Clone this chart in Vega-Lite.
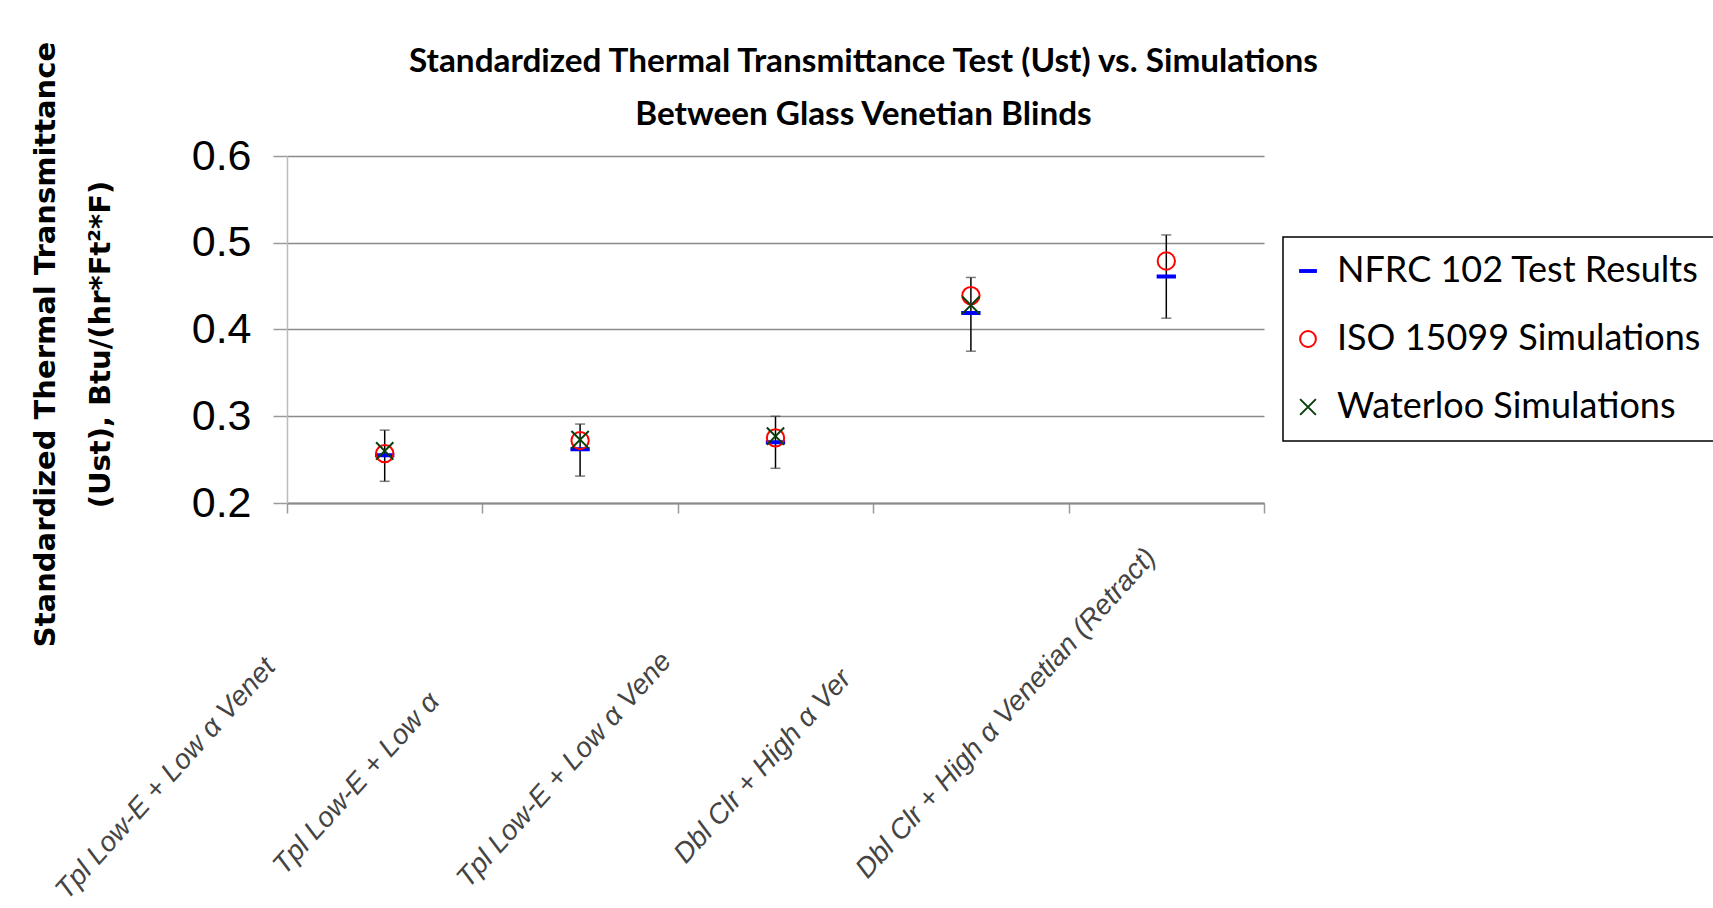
{
  "$schema": "https://vega.github.io/schema/vega-lite/v6.json",
  "autosize": "none",
  "width": 977,
  "height": 347,
  "padding": {"left": 287, "top": 156, "right": 449, "bottom": 405},
  "background": "#ffffff",
  "title": {
    "text": ["Standardized Thermal Transmittance Test (Ust) vs. Simulations", "Between Glass Venetian Blinds"],
    "frame": "group",
    "anchor": "middle",
    "dx": 88,
    "offset": -91,
    "font": "Lato",
    "fontSize": 33.3,
    "fontWeight": "bold",
    "lineHeight": 53,
    "color": "#000000"
  },
  "datasets": {
    "pts": [
      {"category": "Tpl Low-E + Low α Venet", "series": "NFRC 102 Test Results", "value": 0.255},
      {"category": "Tpl Low-E + Low α", "series": "NFRC 102 Test Results", "value": 0.262},
      {"category": "Tpl Low-E + Low α Vene", "series": "NFRC 102 Test Results", "value": 0.270},
      {"category": "Dbl Clr + High α Ver", "series": "NFRC 102 Test Results", "value": 0.419},
      {"category": "Dbl Clr + High α Venetian (Retract)", "series": "NFRC 102 Test Results", "value": 0.461},
      {"category": "Tpl Low-E + Low α Venet", "series": "ISO 15099 Simulations", "value": 0.257},
      {"category": "Tpl Low-E + Low α", "series": "ISO 15099 Simulations", "value": 0.272},
      {"category": "Tpl Low-E + Low α Vene", "series": "ISO 15099 Simulations", "value": 0.275},
      {"category": "Dbl Clr + High α Ver", "series": "ISO 15099 Simulations", "value": 0.439},
      {"category": "Dbl Clr + High α Venetian (Retract)", "series": "ISO 15099 Simulations", "value": 0.479},
      {"category": "Tpl Low-E + Low α Venet", "series": "Waterloo Simulations", "value": 0.260},
      {"category": "Tpl Low-E + Low α", "series": "Waterloo Simulations", "value": 0.273},
      {"category": "Tpl Low-E + Low α Vene", "series": "Waterloo Simulations", "value": 0.277},
      {"category": "Dbl Clr + High α Ver", "series": "Waterloo Simulations", "value": 0.428}
    ],
    "err": [
      {"category": "Tpl Low-E + Low α Venet", "lower": 0.225, "upper": 0.284},
      {"category": "Tpl Low-E + Low α", "lower": 0.231, "upper": 0.291},
      {"category": "Tpl Low-E + Low α Vene", "lower": 0.240, "upper": 0.300},
      {"category": "Dbl Clr + High α Ver", "lower": 0.375, "upper": 0.460},
      {"category": "Dbl Clr + High α Venetian (Retract)", "lower": 0.413, "upper": 0.509}
    ]
  },
  "encoding": {
    "x": {
      "field": "category",
      "type": "nominal",
      "sort": null,
      "bandPosition": 0.5,
      "scale": {
        "type": "band",
        "domain": ["Tpl Low-E + Low α Venet", "Tpl Low-E + Low α", "Tpl Low-E + Low α Vene", "Dbl Clr + High α Ver", "Dbl Clr + High α Venetian (Retract)"],
        "paddingInner": 0,
        "paddingOuter": 0
      },
      "axis": {
        "title": null,
        "tickBand": "extent",
        "grid": false,
        "labelAngle": -48,
        "labelAlign": "right",
        "labelBaseline": "middle",
        "labelFont": "Liberation Sans",
        "labelFontStyle": "italic",
        "labelFontSize": 28,
        "labelColor": "#444444",
        "labelPadding": 22,
        "labelLimit": 2000,
        "labelOverlap": false,
        "labelExpr": "pad(datum.label, length(datum.label) + (datum.label == 'Tpl Low-E + Low α Venet' ? 22 : datum.label == 'Tpl Low-E + Low α' ? 28 : datum.label == 'Tpl Low-E + Low α Vene' ? 21 : datum.label == 'Dbl Clr + High α Ver' ? 24 : 3), '\u00a0') + '\u200b'",
        "tickSize": 10,
        "tickColor": "#9a9a9a",
        "tickWidth": 1.5,
        "domainColor": "#8a8a8a",
        "domainWidth": 2
      }
    }
  },
  "layer": [
    {
      "data": {"name": "err"},
      "mark": {"type": "rule", "color": "#000000", "strokeWidth": 1.5},
      "encoding": {
        "y": {"field": "lower", "type": "quantitative"},
        "y2": {"field": "upper"}
      }
    },
    {
      "data": {"name": "err"},
      "mark": {"type": "tick", "color": "#444444", "thickness": 1.5, "size": 10},
      "encoding": {
        "y": {"field": "lower", "type": "quantitative"}
      }
    },
    {
      "data": {"name": "err"},
      "mark": {"type": "tick", "color": "#444444", "thickness": 1.5, "size": 10},
      "encoding": {
        "y": {"field": "upper", "type": "quantitative"}
      }
    },
    {
      "data": {"name": "pts"},
      "mark": {"type": "point", "filled": false, "strokeWidth": 2, "size": 300, "opacity": 1},
      "encoding": {
        "y": {
          "field": "value",
          "type": "quantitative",
          "scale": {"domain": [0.2, 0.6], "nice": false, "zero": false},
          "axis": {
            "values": [0.2, 0.3, 0.4, 0.5, 0.6],
            "format": ".1f",
            "labelFont": "Liberation Sans",
            "labelFontSize": 43,
            "labelColor": "#000000",
            "labelPadding": 22,
            "tickSize": 14,
            "tickColor": "#9a9a9a",
            "tickWidth": 1.5,
            "domainColor": "#bbbbbb",
            "domainWidth": 1.5,
            "grid": true,
            "gridColor": "#8a8a8a",
            "gridWidth": 1.5,
            "title": ["Standardized Thermal Transmittance", "(Ust), Btu/(hr*Ft²*F)"],
            "titleFont": "DejaVu Sans",
            "titleFontSize": 29,
            "titleFontWeight": "bold",
            "titleColor": "#000000",
            "titleLineHeight": 55,
            "titlePadding": 76,
            "titleY": 188
          }
        },
        "color": {
          "field": "series",
          "type": "nominal",
          "scale": {
            "domain": ["NFRC 102 Test Results", "ISO 15099 Simulations", "Waterloo Simulations"],
            "range": ["#0000ff", "#ff0000", "#0a400a"]
          },
          "legend": {
            "title": null,
            "orient": "none",
            "legendX": 996,
            "legendY": 81,
            "strokeColor": "#000000",
            "fillColor": "#ffffff",
            "padding": 16,
            "labelFont": "Lato",
            "labelFontSize": 36,
            "labelColor": "#000000",
            "labelOffset": 11,
            "symbolOffset": -9,
            "labelLimit": 1000,
            "rowPadding": 32,
            "symbolSize": 250,
            "symbolStrokeWidth": 2
          }
        },
        "shape": {
          "field": "series",
          "type": "nominal",
          "scale": {
            "domain": ["NFRC 102 Test Results", "ISO 15099 Simulations", "Waterloo Simulations"],
            "range": ["M-1,-0.12L1,-0.12L1,0.12L-1,0.12Z", "circle", "M-1,-1L1,1M-1,1L1,-1"]
          },
          "legend": null
        }
      }
    }
  ],
  "config": {
    "view": {"stroke": null},
    "legend": {"strokeWidth": 1.5}
  }
}
